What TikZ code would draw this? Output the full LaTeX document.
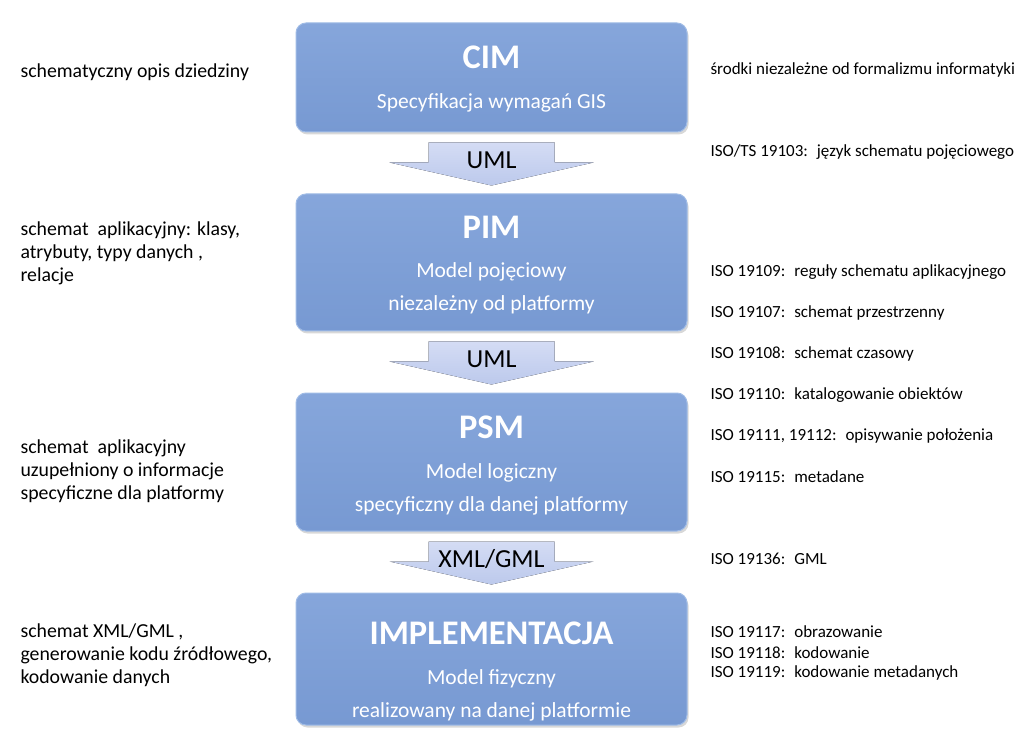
\documentclass[tikz,border=0pt]{standalone}
\usepackage{fontspec}
\setmainfont{Carlito}
\usetikzlibrary{shadows,calc}

\definecolor{boxtop}{RGB}{134,166,219}
\definecolor{boxbot}{RGB}{119,153,210}
\definecolor{boxline}{RGB}{160,188,230}
\definecolor{arrtop}{RGB}{212,220,244}
\definecolor{arrbot}{RGB}{188,201,236}

\tikzset{
	model/.style={rounded corners=10pt, minimum width=391pt, top color=boxtop, bottom color=boxbot,
		draw=boxline, line width=1pt, drop shadow={opacity=0.3, shadow xshift=1.5pt, shadow yshift=-2.5pt}},
	title/.style={text=white, font=\bfseries\fontsize{34.5}{38}\selectfont},
	sub/.style={text=white, align=center, font=\fontsize{21.5}{33}\selectfont},
	desc/.style={anchor=west, align=left, font=\fontsize{19.8}{23}\selectfont},
	iso/.style={anchor=west, font=\fontsize{17}{20.5}\selectfont},
	flow/.style={top color=arrtop, bottom color=arrbot},
	flowlabel/.style={font=\fontsize{26}{28}\selectfont}
}

% block arrow between two models
\newcommand{\flowarrow}[3]{%
	\fill[flow] ($(#1.south)+(-63,10)$) -- ++(126,0) -- ++(0,20) -- ++(39,0)
		-- ($(#2.north)+(0,-8)$) -- ($(#1.south)+(-102,30)$) -- ++(39,0) -- cycle;
	\node[flowlabel] (#1lbl) at ($(#1.south)+(0,28)$) {#3};}

\begin{document}
\begin{tikzpicture}[x=1pt, y=-1pt]
	\useasboundingbox[fill=white] (0,0) rectangle (1023,751);

	% models
	\node[model, minimum height=109pt] (cim) at (491.5,77.5) {};
	\node[model, minimum height=137pt] (pim) at (491.5,262.5) {};
	\node[model, minimum height=138pt] (psm) at (491.5,462) {};
	\node[model, minimum height=132pt] (impl) at (491.5,659) {};

	\node[title] (cimt) at (491.5,57) {CIM};
	\node[sub] (cims) at (491.5,103) {Specyfikacja wymagań GIS};
	\node[title] (pimt) at (491.5,227) {PIM};
	\node[sub] (pims) at (491.5,288.5) {Model pojęciowy\\niezależny od platformy};
	\node[title] (psmt) at (491.5,427) {PSM};
	\node[sub] (psms) at (491.5,489) {Model logiczny\\specyficzny dla danej platformy};
	\node[title] (implt) at (491.5,633) {IMPLEMENTACJA};
	\node[sub] (impls) at (491.5,695.5) {Model fizyczny\\realizowany na danej platformie};

	% transformations
	\flowarrow{cim}{pim}{UML}
	\flowarrow{pim}{psm}{UML}
	\flowarrow{psm}{impl}{XML/GML}

	% left descriptions
	\node[desc] (d1) at (17,72) {schematyczny opis dziedziny};
	\node[desc] (d2) at (17,253.5) {schemat~ aplikacyjny: klasy,\\atrybuty, typy danych ,\\relacje};
	\node[desc] (d3) at (17,471) {schemat~ aplikacyjny\\uzupełniony o informacje\\specyficzne dla platformy};
	\node[desc] (d4) at (17,655) {schemat XML/GML ,\\generowanie kodu źródłowego,\\kodowanie danych};

	% right: standards
	\foreach \y/\t [count=\i] in {70/{środki niezależne od formalizmu informatyki},
		152/{ISO/TS 19103:~ język schematu pojęciowego},
		272/{ISO 19109:~ reguły schematu aplikacyjnego},
		313/{ISO 19107:~ schemat przestrzenny},
		354/{ISO 19108:~ schemat czasowy},
		395/{ISO 19110:~ katalogowanie obiektów},
		436/{ISO 19111, 19112:~ opisywanie położenia},
		477/{ISO 19115:~ metadane},
		559/{ISO 19136:~ GML},
		632/{ISO 19117:~ obrazowanie},
		653/{ISO 19118:~ kodowanie},
		673/{ISO 19119:~ kodowanie metadanych}}
		\node[iso] (iso\i) at (707,\y) {\t};
\end{tikzpicture}
\end{document}
